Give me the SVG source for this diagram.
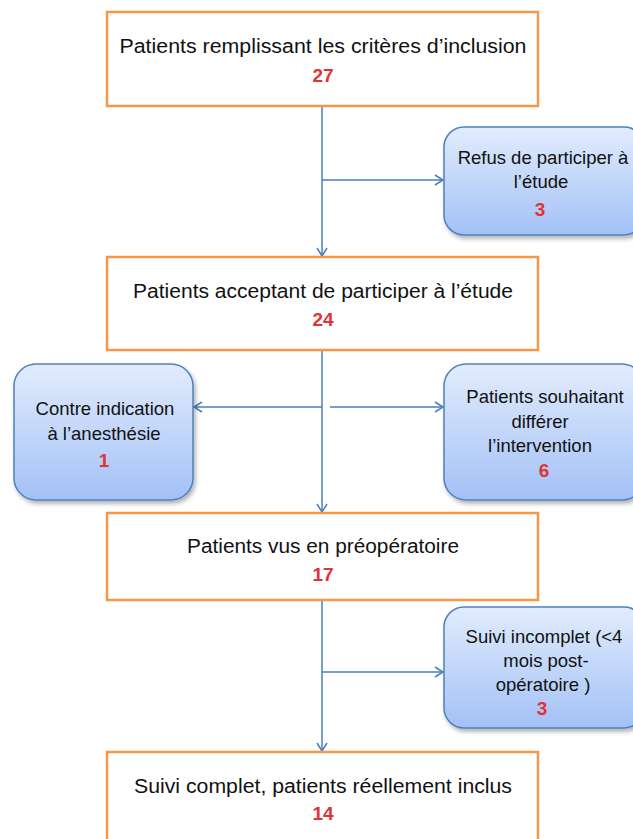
<svg xmlns="http://www.w3.org/2000/svg" width="633" height="839" viewBox="0 0 633 839">
<defs>
<linearGradient id="bg" x1="0" y1="0" x2="0" y2="1">
<stop offset="0" stop-color="#E2ECFD"/>
<stop offset="1" stop-color="#A3C1F6"/>
</linearGradient>
<filter id="sh" x="-10%" y="-10%" width="130%" height="130%">
<feDropShadow dx="2" dy="3" stdDeviation="2" flood-color="#000" flood-opacity="0.3"/>
</filter>
<marker id="ah" markerWidth="12" markerHeight="12" refX="10" refY="6" orient="auto" markerUnits="userSpaceOnUse">
<path d="M2,1 L10,6 L2,11" fill="none" stroke="#4A7EBB" stroke-width="1.5"/>
</marker>
<style>
.ob{fill:#fff;stroke:#F79646;stroke-width:2.5}
.bb{fill:url(#bg);stroke:#4F81BD;stroke-width:1.5;filter:url(#sh)}
.t{font-family:"Liberation Sans",Arial,sans-serif;font-size:20px;fill:#111;text-anchor:middle}
.s{font-family:"Liberation Sans",Arial,sans-serif;font-size:18.5px;fill:#111;text-anchor:middle}
.n{font-family:"Liberation Sans",Arial,sans-serif;font-size:19px;font-weight:bold;fill:#E03333;text-anchor:middle}
.c{stroke:#4A7EBB;stroke-width:1.5;fill:none}
</style>
</defs>
<g id="connectors">
<line class="c" x1="322" y1="106" x2="322" y2="256" marker-end="url(#ah)"/>
<line class="c" x1="322" y1="180" x2="443" y2="180" marker-end="url(#ah)"/>
<line class="c" x1="322" y1="350" x2="322" y2="512" marker-end="url(#ah)"/>
<line class="c" x1="322" y1="407" x2="194" y2="407" marker-end="url(#ah)"/>
<line class="c" x1="330" y1="407" x2="443" y2="407" marker-end="url(#ah)"/>
<line class="c" x1="322" y1="600" x2="322" y2="751" marker-end="url(#ah)"/>
<line class="c" x1="322" y1="672" x2="443" y2="672" marker-end="url(#ah)"/>
</g>
<g id="n1">
<rect class="ob" x="107" y="12" width="431" height="94"/>
<text class="t" x="323" y="53" textLength="407" lengthAdjust="spacingAndGlyphs">Patients  remplissant les critères d’inclusion</text>
<text class="n" x="323" y="82">27</text>
</g>
<g id="n2">
<rect class="bb" x="444" y="127" width="200" height="108" rx="20"/>
<text class="s" x="543" y="164">Refus de participer à</text>
<text class="s" x="541" y="188">l’étude</text>
<text class="n" x="540" y="216">3</text>
</g>
<g id="n3">
<rect class="ob" x="107" y="257" width="431" height="93"/>
<text class="t" x="323" y="298" textLength="380" lengthAdjust="spacingAndGlyphs">Patients acceptant de participer à l’étude</text>
<text class="n" x="323" y="326">24</text>
</g>
<g id="n4">
<rect class="bb" x="14" y="364" width="179" height="136" rx="22"/>
<text class="s" x="105" y="415">Contre indication</text>
<text class="s" x="104" y="440">à l’anesthésie</text>
<text class="n" x="104" y="467">1</text>
</g>
<g id="n5">
<rect class="bb" x="444" y="364" width="200" height="136" rx="22"/>
<text class="s" x="545" y="403">Patients souhaitant</text>
<text class="s" x="540" y="428">différer</text>
<text class="s" x="540" y="452">l’intervention</text>
<text class="n" x="544" y="477">6</text>
</g>
<g id="n6">
<rect class="ob" x="107" y="513" width="431" height="87"/>
<text class="t" x="323" y="553" textLength="272" lengthAdjust="spacingAndGlyphs">Patients vus en préopératoire</text>
<text class="n" x="323" y="581">17</text>
</g>
<g id="n7">
<rect class="bb" x="444" y="607" width="200" height="121" rx="20"/>
<text class="s" x="544" y="643">Suivi incomplet (&lt;4</text>
<text class="s" x="546" y="667">mois post-</text>
<text class="s" x="543" y="691">opératoire )</text>
<text class="n" x="542" y="715">3</text>
</g>
<g id="n8">
<rect class="ob" x="107" y="752" width="431" height="100"/>
<text class="t" x="323" y="793" textLength="378" lengthAdjust="spacingAndGlyphs">Suivi complet, patients réellement inclus</text>
<text class="n" x="323" y="820">14</text>
</g>
</svg>
